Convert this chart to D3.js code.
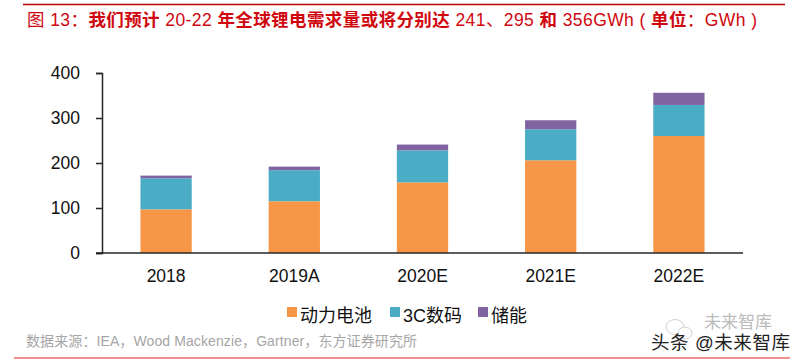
<!DOCTYPE html>
<html>
<head>
<meta charset="utf-8">
<script src="https://cdn.jsdelivr.net/npm/d3@7"></script>
<style>
	html, body { margin: 0; padding: 0; background: #fff; }
	text { font-family: "Liberation Sans", "Noto Sans CJK SC", sans-serif; }
</style>
</head>
<body>
<div id="chart"></div>
<script>
var categories = ["2018", "2019A", "2020E", "2021E", "2022E"];
var seriesNames = ["动力电池", "3C数码", "储能"];
var power = [97, 115, 157, 206, 260];
var digital = [69, 69, 71, 69, 69];
var storage = [6, 8, 13, 20, 27];
var yTicks = [0, 100, 200, 300, 400];
var colors = ["#F79646", "#4BACC6", "#8064A2"];

var width = 803,
	height = 361,
	margin = { top: 73, right: 60, bottom: 108, left: 102 };

var svg = d3.select("#chart").append("svg")
	.attr("width", width)
	.attr("height", height)
	.style("display", "block");

var x = d3.scaleBand()
	.domain(categories)
	.range([margin.left, width - margin.right])
	.paddingInner(0.6)
	.paddingOuter(0.3);

var y = d3.scaleLinear()
	.domain([0, 400])
	.range([height - margin.bottom, margin.top]);

// stack the three series per year
var rows = categories.map(function(c, i) {
	return { year: c, "动力电池": power[i], "3C数码": digital[i], "储能": storage[i] };
});
var stacked = d3.stack().keys(seriesNames)(rows);

var layers = svg.selectAll(".layer")
	.data(stacked)
	.enter().append("g")
	.attr("class", "layer")
	.attr("fill", function(d, i) { return colors[i]; });

layers.selectAll("rect")
	.data(function(d) { return d; })
	.enter().append("rect")
	.attr("x", function(d) { return x(d.data.year); })
	.attr("y", function(d) { return y(d[1]); })
	.attr("width", x.bandwidth())
	.attr("height", function(d) { return y(d[0]) - y(d[1]); });

// axes
var yAxis = d3.axisLeft(y).tickValues(yTicks).tickSize(6).tickPadding(16);
var gy = svg.append("g")
	.attr("transform", "translate(" + margin.left + ",0)")
	.call(yAxis);
gy.select(".domain").attr("stroke", "#262626").attr("stroke-width", 1.5);
gy.selectAll("line").attr("stroke", "#262626").attr("stroke-width", 1.5);
gy.selectAll("text").style("font-size", "17.5px").attr("fill", "#111");

var xAxis = d3.axisBottom(x).tickSize(0).tickPadding(17);
var gx = svg.append("g")
	.attr("transform", "translate(0," + y(0) + ")")
	.call(xAxis);
gx.select(".domain").attr("stroke", "#262626").attr("stroke-width", 1.5)
	.attr("d", "M" + (margin.left - 6) + ",0H" + (width - margin.right));
gx.selectAll("text").style("font-size", "17.5px").attr("fill", "#111");

// title and rules
svg.append("line").attr("x1", 23).attr("x2", 785).attr("y1", 4.5).attr("y2", 4.5)
	.attr("stroke", "#C00000").attr("stroke-width", 1.5);
svg.append("line").attr("x1", 14).attr("x2", 790).attr("y1", 358).attr("y2", 358)
	.attr("stroke", "#E02020").attr("stroke-width", 1.2);

var titleParts = [
	["图 13：", "normal"], ["我们预计", "bold"], [" 20-22 ", "normal"],
	["年全球锂电需求量或将分别达", "bold"], [" 241、295 ", "normal"], ["和", "bold"],
	[" 356GWh ( ", "normal"], ["单位", "bold"], ["：GWh )", "normal"]
];
svg.append("text")
	.attr("x", 27).attr("y", 26)
	.attr("fill", "#D0070F")
	.attr("font-size", 17.5)
	.attr("textLength", 730)
	.attr("xml:space", "preserve")
	.style("white-space", "pre")
	.selectAll("tspan")
	.data(titleParts)
	.enter().append("tspan")
	.attr("font-weight", function(d) { return d[1]; })
	.text(function(d) { return d[0]; });

// legend
var legendX = [287, 390, 478];
var legend = svg.selectAll(".legend")
	.data(seriesNames)
	.enter().append("g")
	.attr("class", "legend")
	.attr("transform", function(d, i) { return "translate(" + legendX[i] + ",315)"; });
legend.append("rect")
	.attr("y", -8).attr("width", 10).attr("height", 10)
	.attr("fill", function(d, i) { return colors[i]; });
legend.append("text")
	.attr("x", 13).attr("y", 7)
	.attr("font-size", 18)
	.attr("fill", "#111")
	.text(function(d) { return d; });

// source
svg.append("text")
	.attr("x", 26).attr("y", 346)
	.attr("font-size", 14)
	.attr("fill", "#A6A6A6")
	.attr("textLength", 391)
	.text("数据来源：IEA，Wood Mackenzie，Gartner，东方证券研究所");

// watermark, icon is two faint bubbles
svg.append("ellipse").attr("cx", 675).attr("cy", 327).attr("rx", 9).attr("ry", 7.5)
	.attr("fill", "none").attr("stroke", "#D0D0D0");
svg.append("ellipse").attr("cx", 685).attr("cy", 333).attr("rx", 7).attr("ry", 6)
	.attr("fill", "#fff").attr("stroke", "#D0D0D0");
svg.append("text").attr("x", 704).attr("y", 328)
	.attr("font-size", 17).attr("fill", "#BBB").text("未来智库");
svg.append("text").attr("x", 651).attr("y", 349)
	.attr("font-size", 18.5).attr("fill", "#222").attr("textLength", 139).text("头条 @未来智库");
</script>
</body>
</html>
